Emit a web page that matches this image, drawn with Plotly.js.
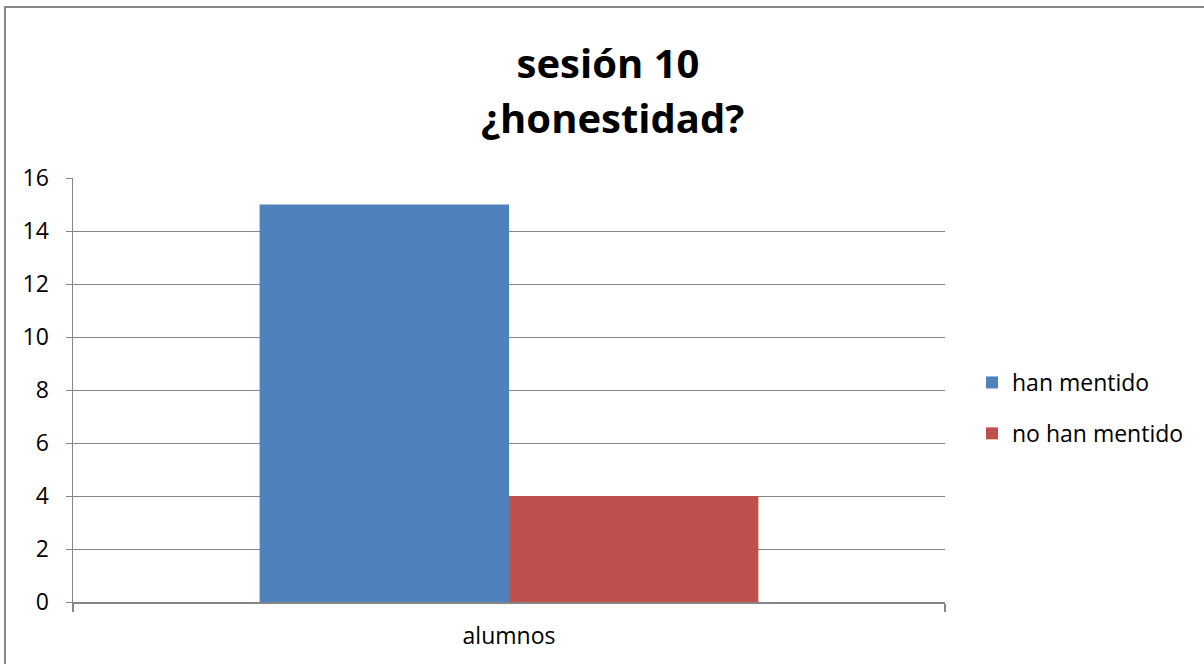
<!DOCTYPE html>
<html>
<head>
<meta charset="utf-8">
<script src="https://cdn.plot.ly/plotly-3.0.1.min.js"></script>
<style>html,body{margin:0;padding:0;background:#fff;}#chart{width:1204px;height:664px;}</style>
</head>
<body>
<div id="chart"></div>
<script>
const categories = ['alumnos'];
const seriesNames = ['han mentido', 'no han mentido'];
const hanMentido = [15];
const noHanMentido = [4];
const yTicks = [0, 2, 4, 6, 8, 10, 12, 14, 16];
const titleLines = ['sesión 10', '¿honestidad?'];
const colors = ['#4F81BD', '#C0504D'];

const font = '"Open Sans", Calibri, sans-serif';
const L = 73, R = 945, T = 178, B = 602;
const W = R - L, H = B - T;

const traces = [
  {type: 'bar', x: categories, y: hanMentido, name: seriesNames[0], marker: {color: colors[0]}, legendgroup: 'a', hoverinfo: 'none'},
  {type: 'bar', x: categories, y: noHanMentido, name: seriesNames[1], marker: {color: colors[1]}, legendgroup: 'b', hoverinfo: 'none'}
];

const layout = {
  width: 1204, height: 664,
  margin: {l: L, r: 1204 - R, t: T, b: 664 - B},
  paper_bgcolor: '#fff', plot_bgcolor: '#fff',
  font: {family: font, size: 23, color: '#000'},
  barmode: 'group', bargap: 0.428, bargroupgap: 0,
  title: {text: '<b>' + titleLines[0] + '</b>', font: {family: font, size: 40, color: '#000'}, x: 608/1204, xanchor: 'center', y: 1 - 64/664, yanchor: 'middle'},
  annotations: [
    {text: '<b>' + titleLines[1] + '</b>', xref: 'paper', yref: 'paper', x: (612-L)/W, y: (B-117)/H, xanchor: 'center', yanchor: 'middle', showarrow: false, font: {family: font, size: 40, color: '#000'}}
  ],
  xaxis: {type: 'category', showgrid: false, showline: true, linecolor: '#868686', linewidth: 1.5, ticks: 'outside', tickson: 'boundaries', ticklen: 8, tickcolor: '#868686', tickwidth: 1.5, tickfont: {size: 23}, ticklabelstandoff: 13, fixedrange: true},
  yaxis: {range: [0, 16], tickvals: yTicks, ticktext: yTicks.map(String), showgrid: true, gridcolor: '#868686', gridwidth: 1, showline: true, linecolor: '#868686', linewidth: 1.5, ticks: 'outside', ticklen: 6, tickcolor: '#868686', tickfont: {size: 23}, ticklabelstandoff: 12, zeroline: false, fixedrange: true},
  legend: {x: (972-L)/W, xanchor: 'left', y: (B-408)/H, yanchor: 'middle', font: {family: font, size: 23}, tracegroupgap: 18, bgcolor: 'rgba(0,0,0,0)'},
  shapes: [
    {type: 'rect', xref: 'paper', yref: 'paper', x0: (5-L)/W, x1: (1215-L)/W, y0: (B-675)/H, y1: (B-7)/H, line: {color: '#888888', width: 2}, fillcolor: 'rgba(0,0,0,0)', layer: 'below'}
  ],
  showlegend: true
};

Plotly.newPlot('chart', traces, layout, {displayModeBar: false, staticPlot: true});
</script>
</body>
</html>
